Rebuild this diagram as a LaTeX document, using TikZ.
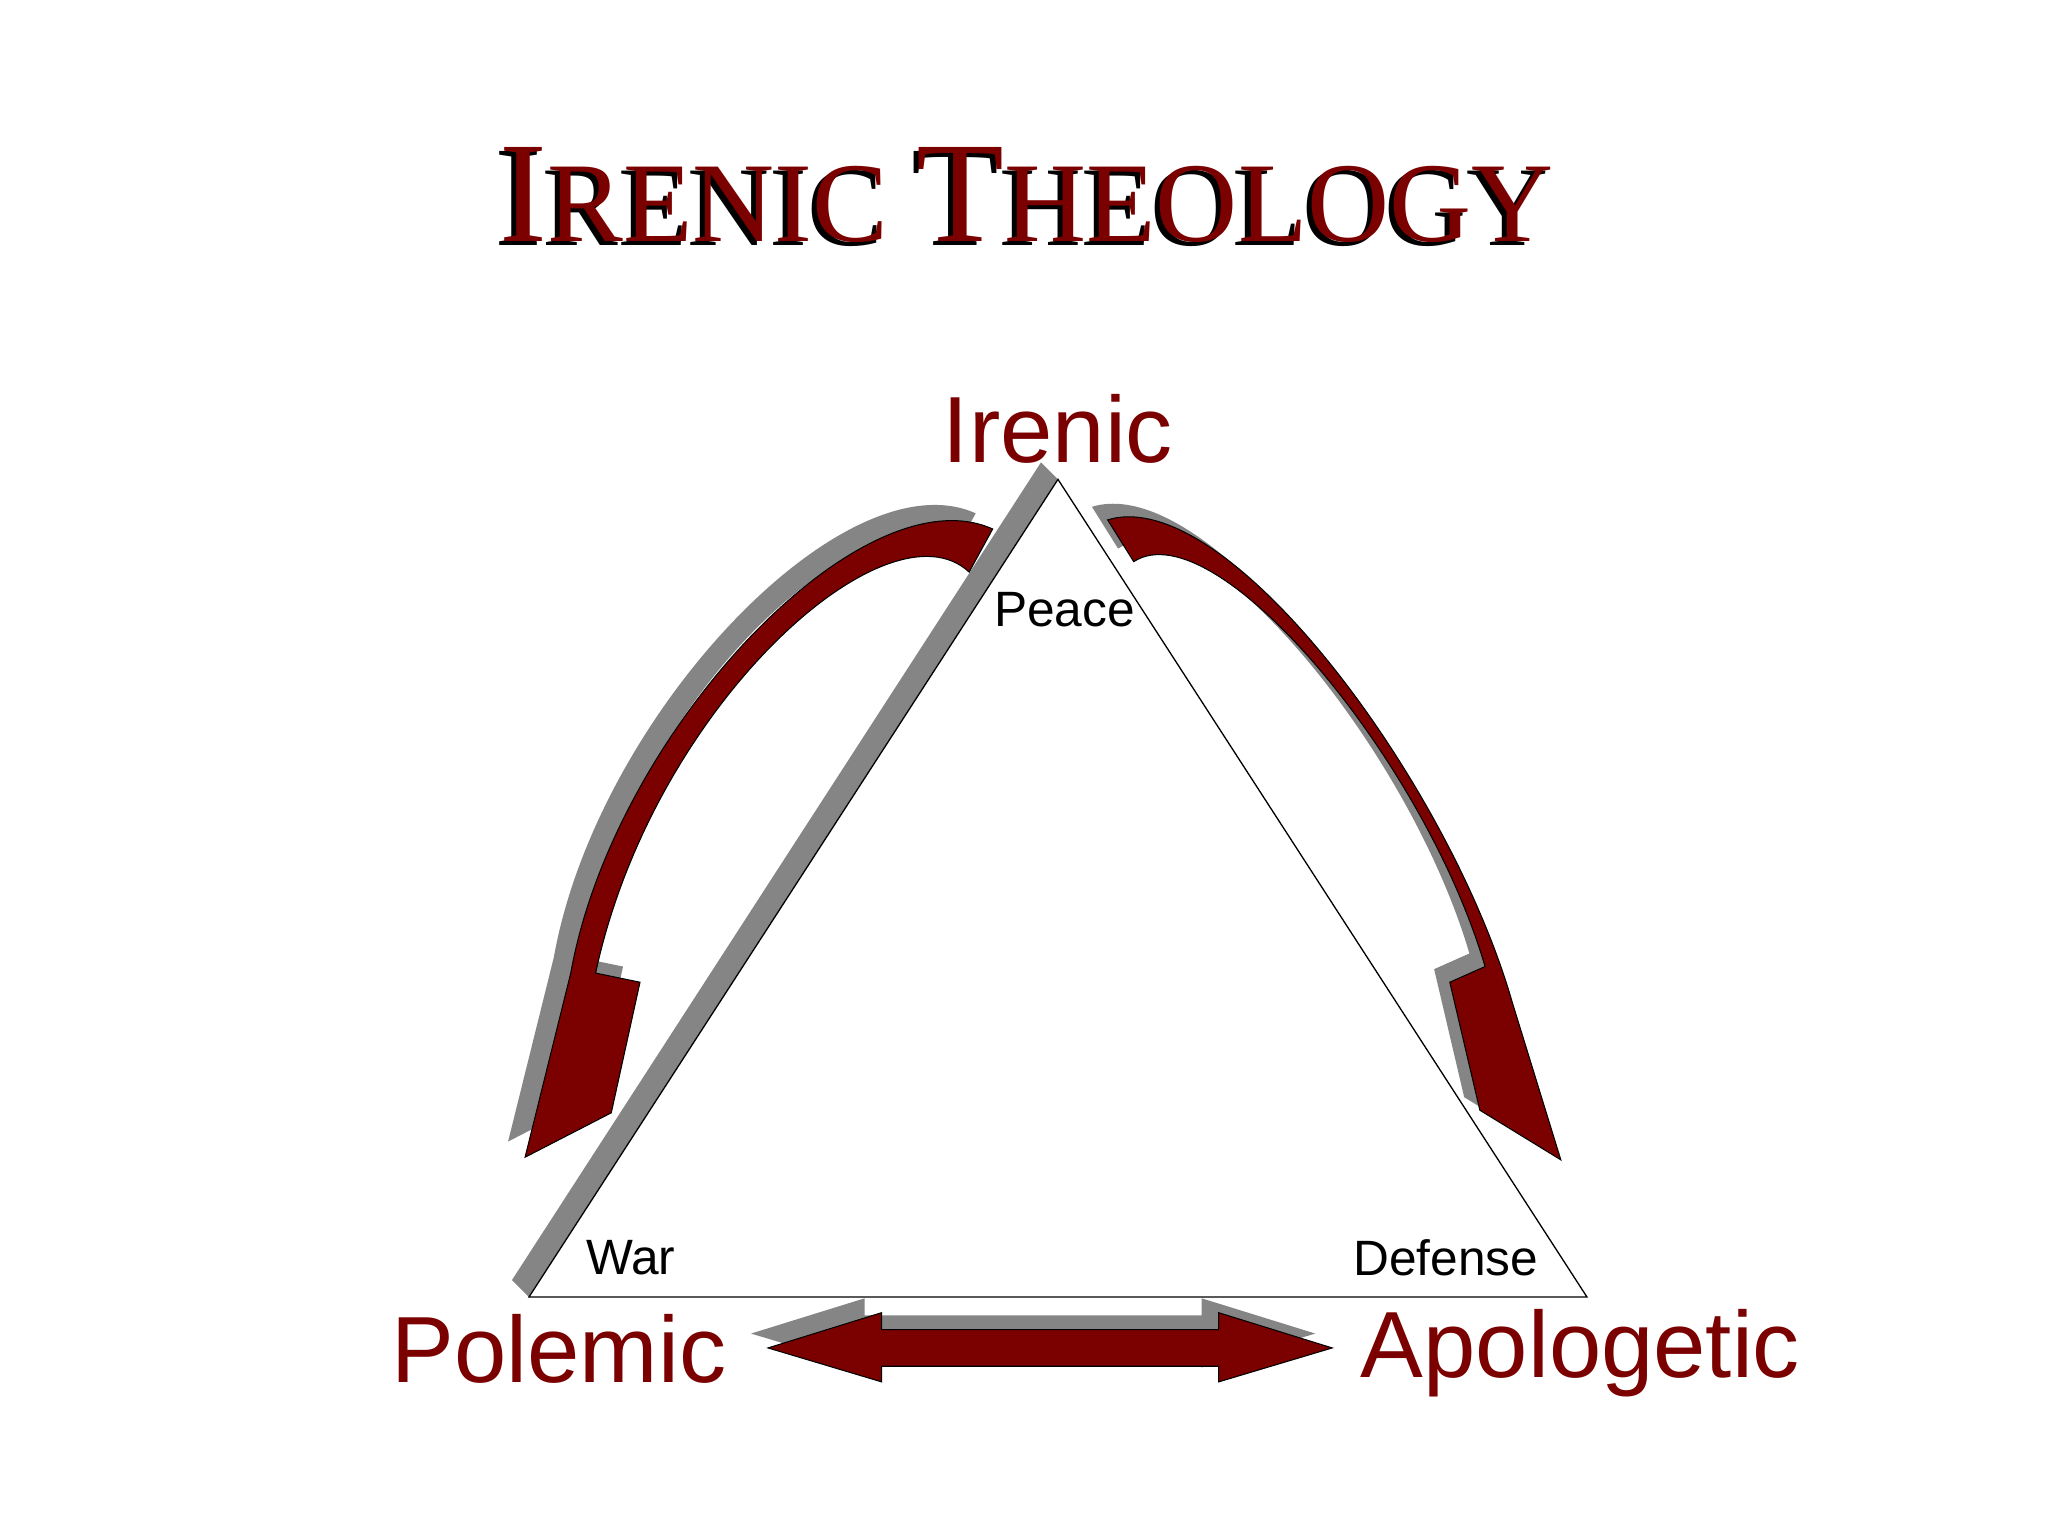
\documentclass[tikz,border=0pt]{standalone}
\usepackage{fontspec}
\setmainfont{Liberation Sans}
\newfontfamily\titlefont{Liberation Serif}
\definecolor{dred}{HTML}{7B0000}
\definecolor{shd}{HTML}{858585}
\begin{document}
\begin{tikzpicture}[x=1pt,y=-1pt,
  big/.style={text=dred,font=\fontsize{72}{80}\selectfont,inner sep=0},
  small/.style={text=black,font=\fontsize{38}{42}\selectfont,inner sep=0},
  arr/.style={fill=dred,draw=black,line width=0.8pt},
  sh/.style={fill=shd}]
\useasboundingbox (0,0) rectangle (1568,1176);
\fill[white] (0,0) rectangle (1568,1176);
% title
\def\ttl{\titlefont\fontsize{110}{116}\selectfont I\fontsize{87}{95}\selectfont RENIC \fontsize{110}{116}\selectfont T\fontsize{87}{95}\selectfont HEOLOGY}
\node[inner sep=0,text=black] (tsh) at (782,152) {\ttl};
\node[inner sep=0,text=dred] (title) at (786,149) {\ttl};
% triangle shadow and triangle
\fill[shd] (392,980)--(797,354)--(810,367)--(405,993)--cycle;
\draw[fill=white,line width=1pt] (810,367) coordinate (A)--(405,993) coordinate (B)--(1215,993) coordinate (C)--cycle;
% left arrow
\def\larrow{(760,405) .. controls (660,360) and (470,560) .. (437,745) -- (402,886) -- (468,852) -- (490,752) -- (456,745) .. controls (500,540) and (680,380) .. (742,438) -- cycle}
\fill[sh,shift={(-13,-12)}] \larrow;
\draw[arr] \larrow;
% right arrow
\def\rarrow{(848,398) .. controls (940,370) and (1110,600) .. (1158,768) -- (1195,888) -- (1133,850) -- (1110,752) -- (1137,740) .. controls (1090,580) and (930,390) .. (868,430) -- cycle}
\fill[sh,shift={(-12,-10)}] \rarrow;
\draw[arr] \rarrow;
% bottom double arrow
\def\barrow{(588,1032)--(675,1005)--(675,1018)--(933,1018)--(933,1005)--(1020,1032)--(933,1058)--(933,1046)--(675,1046)--(675,1058)--cycle}
\fill[sh,shift={(-13,-11)}] \barrow;
\draw[arr] \barrow;
% labels
\node[big] (irenic) at (810,328) {Irenic};
\node[big] (polemic) at (428,1033) {Polemic};
\node[big] (apol) at (1210,1036) {Apologetic};
\node[small] (peace) at (815,467) {Peace};
\node[small] (war) at (483,963) {War};
\node[small] (def) at (1107,963) {Defense};
\end{tikzpicture}
\end{document}
